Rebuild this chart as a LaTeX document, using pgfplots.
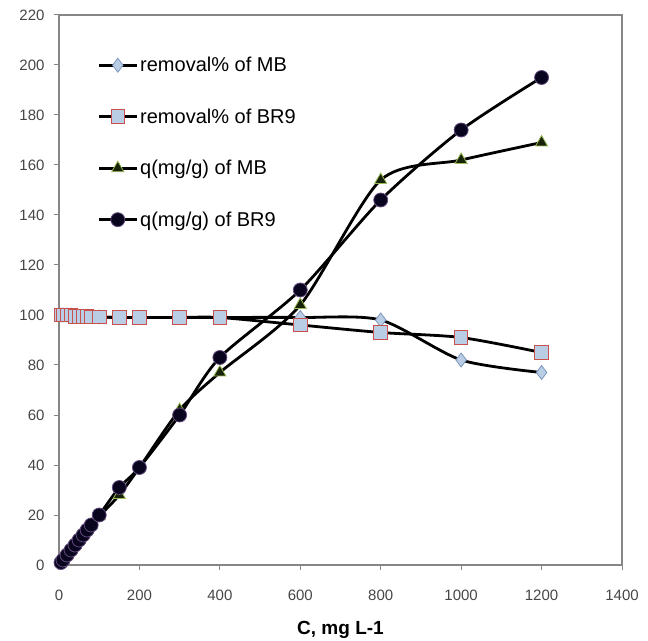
\documentclass[border=0pt]{standalone}
\usepackage{pgfplots}
\pgfplotsset{compat=1.18}
\usepackage{fontspec}
\setmainfont{Liberation Sans}
\definecolor{framegray}{RGB}{134,134,134}
\definecolor{ticktext}{RGB}{70,70,70}
\definecolor{lblue}{RGB}{185,205,229}
\definecolor{dblue}{RGB}{124,150,190}
\definecolor{sqred}{RGB}{200,80,77}
\definecolor{trifill}{RGB}{25,35,8}
\definecolor{triedge}{RGB}{155,187,89}
\definecolor{circfill}{RGB}{10,5,30}
\definecolor{circedge}{RGB}{96,74,123}
\begin{document}
\begin{tikzpicture}[x=1pt,y=1pt]
\begin{axis}[
  scale only axis,
  width=563pt, height=550pt,
  xmin=0, xmax=1400, ymin=0, ymax=220,
  xtick={0,200,...,1400}, ytick={0,20,...,220},
  axis line style={draw=framegray, line width=1.3pt},
  tick style={draw=framegray, line width=1pt},
  tick align=outside, major tick length=5pt,
  xtick pos=left, ytick pos=left,
  ticklabel style={font=\fontsize{15}{18}\selectfont, text=ticktext},
  /pgf/number format/assume math mode=true,
  /pgf/number format/1000 sep={},
  xticklabel style={yshift=-16pt},
  yticklabel style={xshift=-6pt},
  xlabel={\textbf{C, mg L-1}},
  xlabel style={font=\fontsize{19}{22}\selectfont, yshift=-14pt},
  clip=false,
  legend cell align=left,
  legend style={draw=none, fill=none, at={(axis cs:95,204)}, anchor=north west,
    font=\fontsize{20}{24}\selectfont, row sep=31.5pt, inner sep=0pt,
    /tikz/every even column/.append style={column sep=0pt}},
  legend image code/.code={\draw[mark repeat=2,mark phase=2] plot coordinates {(0pt,0pt)(19pt,0pt)(38pt,0pt)};},
  every axis plot/.append style={line width=2.8pt, black, smooth, tension=0.45},
]
\coordinate (sw) at (rel axis cs:0,0);
\addplot[mark=diamond*, mark size=7pt, mark options={fill=lblue, draw=dblue, line width=0.8pt}] coordinates {
(5,100) (10,100) (20,100) (30,100) (40,99.5) (50,99.5) (60,99.5) (70,99.5) (80,99.5) (100,99.2)
(150,99) (200,99) (300,99) (400,99) (600,99) (800,98) (1000,82) (1200,77)};
\addlegendentry{removal\% of MB}
\addplot[mark=square*, mark size=6.8pt, mark options={fill=lblue, draw=sqred, line width=1pt}] coordinates {
(5,100) (10,100) (20,100) (30,100) (40,99.5) (50,99.5) (60,99.3) (70,99.3) (80,99.2) (100,99.2)
(150,99) (200,99) (300,99) (400,99) (600,96) (800,93) (1000,91) (1200,85)};
\addlegendentry{removal\% of BR9}
\addplot[mark=triangle*, mark size=7pt, mark options={fill=trifill, draw=triedge, line width=0.8pt}] coordinates {
(5,1) (10,2) (20,4) (30,6) (40,8) (50,10) (60,12) (70,14) (80,16) (100,19.5)
(150,28) (200,39) (300,62) (400,77) (600,104) (800,154) (1000,162) (1200,169)};
\addlegendentry{q(mg/g) of MB}
\addplot[mark=*, mark size=7pt, mark options={fill=circfill, draw=circedge, line width=0.8pt}] coordinates {
(5,1) (10,2) (20,4) (30,6) (40,8) (50,10) (60,12) (70,14) (80,16) (100,20)
(150,31) (200,39) (300,60) (400,83) (600,110) (800,146) (1000,174) (1200,195)};
\addlegendentry{q(mg/g) of BR9}
\end{axis}
\pgfresetboundingbox
\path (sw) ++(-59pt,-75pt) rectangle ++(648pt,640pt);
\end{tikzpicture}
\end{document}
